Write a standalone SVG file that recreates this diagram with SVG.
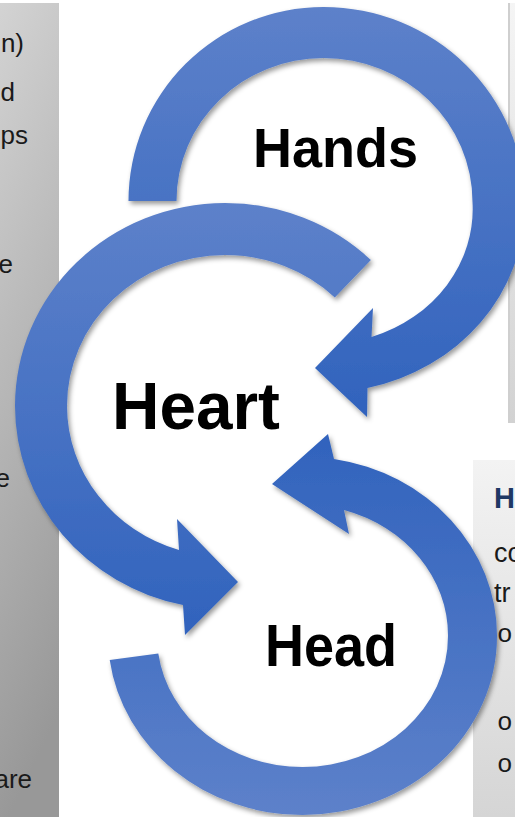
<svg xmlns="http://www.w3.org/2000/svg" width="515" height="817" viewBox="0 0 515 817">
  <defs>
    <linearGradient id="gLeft" x1="0" y1="0" x2="0.15" y2="1">
      <stop offset="0" stop-color="#d3d3d3"/>
      <stop offset="1" stop-color="#989898"/>
    </linearGradient>
    <linearGradient id="gRightTop" x1="0" y1="0" x2="0" y2="1">
      <stop offset="0" stop-color="#f5f5f5"/>
      <stop offset="1" stop-color="#d2d2d2"/>
    </linearGradient>
    <linearGradient id="gRightBot" x1="0" y1="0" x2="0" y2="1">
      <stop offset="0" stop-color="#f3f3f3"/>
      <stop offset="1" stop-color="#d5d5d5"/>
    </linearGradient>
    <linearGradient id="gDown" x1="0" y1="0" x2="0" y2="1">
      <stop offset="0" stop-color="#5d81ca"/>
      <stop offset="1" stop-color="#3163bd"/>
    </linearGradient>
    <linearGradient id="gUp" x1="0" y1="1" x2="0" y2="0">
      <stop offset="0" stop-color="#5d81ca"/>
      <stop offset="1" stop-color="#3163bd"/>
    </linearGradient>
    <filter id="sh" x="-10%" y="-10%" width="130%" height="130%">
      <feDropShadow dx="2" dy="3" stdDeviation="2.5" flood-color="#000" flood-opacity="0.4"/>
    </filter>
  </defs>
  <style>
    .side { font-family: "Liberation Sans", Arial, sans-serif; font-size: 26px; fill: #1a1a1a; }
    .body { font-family: "Liberation Sans", Arial, sans-serif; font-size: 27px; fill: #1a1a1a; }
    .bul { font-family: "Liberation Mono", "Courier New", monospace; font-size: 26px; fill: #1a1a1a; }
    .lbl { font-family: "Liberation Sans", Arial, sans-serif; font-weight: bold; fill: #000; }
    .arrow { filter: url(#sh); }
  </style>

  <rect width="515" height="817" fill="#ffffff"/>

  <g id="panel-left">
    <rect x="0" y="3" width="59" height="814" fill="url(#gLeft)"/>
    <text class="side" x="24" y="52" text-anchor="end">n)</text>
    <text class="side" x="15" y="101" text-anchor="end">d</text>
    <text class="side" x="28" y="144" text-anchor="end">ps</text>
    <text class="side" x="13" y="273" text-anchor="end">e</text>
    <text class="side" x="10" y="487" text-anchor="end">e</text>
    <text class="side" x="32" y="788" text-anchor="end">are</text>
  </g>

  <g id="panel-right-top">
    <rect x="508" y="3" width="7" height="420" fill="url(#gRightTop)"/>
    <rect x="508" y="3" width="2" height="420" fill="#cfcfcf"/>
  </g>

  <g id="panel-right-bottom">
    <rect x="473" y="460" width="42" height="357" fill="url(#gRightBot)"/>
    <text x="494" y="508" style="font-family:'Liberation Sans',Arial,sans-serif;font-weight:bold;font-size:29px;fill:#1f3864">H</text>
    <text class="body" x="494" y="562">co</text>
    <text class="body" x="494" y="602">tr</text>
    <text class="bul" x="497" y="642">o</text>
    <text class="bul" x="497" y="730">o</text>
    <text class="bul" x="497" y="772">o</text>
  </g>

  <g id="connectors">
    <path id="arrow-hands" class="arrow" fill="url(#gDown)"
      d="M128.5 201 A195 194 0 0 1 323.5 7 A201.5 198 0 0 1 525 205 A201.5 187.5 0 0 1 367.5 388 L367 417 L315 368 L373 308 L371.5 337 A149 135 0 0 0 472.5 202 A149 144 0 0 0 323.5 58 A147 143 0 0 0 176.5 201 Z"/>
    <path id="arrow-heart" class="arrow" fill="url(#gDown)"
      d="M370.9 260 A210 203 0 0 0 225 203 A210 203 0 0 0 15 406 A210 203 0 0 0 183 605 L185 635 L238 582 L177 519 L179 550 A158 151 0 0 1 67 406 A158 151 0 0 1 225 255 A158 151 0 0 1 334.8 297.4 Z"/>
    <path id="arrow-head" class="arrow" fill="url(#gUp)"
      d="M109.7 660 A194.5 179 0 0 0 302.5 815 A194.5 179 0 0 0 497 636 A194.5 179 0 0 0 334 459 L328 434 L272 484 L349 534 L344 510 A145.5 131 0 0 1 448 636 A145.5 131 0 0 1 302.5 767 A145.5 131 0 0 1 158.3 653.6 Z"/>
  </g>

  <g id="node-hands">
    <text class="lbl" x="253" y="167" font-size="56" textLength="165" lengthAdjust="spacingAndGlyphs">Hands</text>
  </g>
  <g id="node-heart">
    <text class="lbl" x="112" y="429" font-size="66" textLength="168" lengthAdjust="spacingAndGlyphs">Heart</text>
  </g>
  <g id="node-head">
    <text class="lbl" x="265" y="666" font-size="59" textLength="132" lengthAdjust="spacingAndGlyphs">Head</text>
  </g>
</svg>
